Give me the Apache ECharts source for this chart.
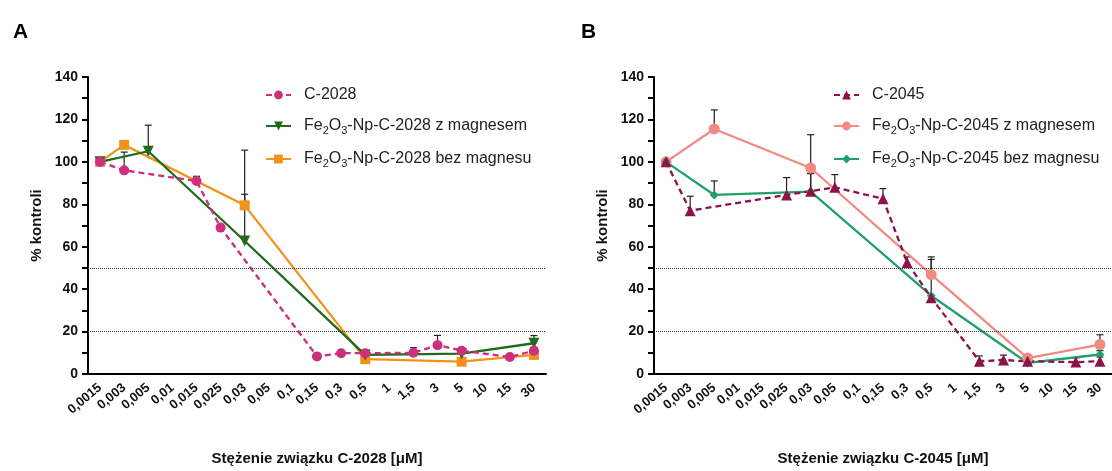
<!DOCTYPE html>
<html>
<head>
<meta charset="utf-8">
<script src="https://cdn.jsdelivr.net/npm/echarts@6/dist/echarts.min.js"></script>
<style>
  html, body { margin: 0; padding: 0; background: #fff; }
  #chart { width: 1112px; height: 471px; }
</style>
</head>
<body>
<div id="chart"></div>
<script>
// stężenia (oś X, wspólna dla obu paneli)
const concentrations = ['0,0015', '0,003', '0,005', '0,01', '0,015', '0,025', '0,03', '0,05', '0,1', '0,15',
  '0,3', '0,5', '1', '1,5', '3', '5', '10', '15', '30'];
const yTicks = [0, 20, 40, 60, 80, 100, 120, 140];
const refLines = [50, 20];

// panel A
const c2028 = [100, 96, null, null, 91, 69, null, null, null, 8.3, 9.8, 9.8, null, 10, 13.6, 11, null, 8, 11];
const c2028Err = [0, 8.6, null, null, 2.2, 0, null, null, null, 0, 0, 0, null, 2.4, 4.6, 0, null, 0, 1.5];
const fe2028z = [100, null, 105, null, null, null, 62.7, null, null, null, null, 9, null, null, null, 9.6, null, null, 14.5];
const fe2028zErr = [0, null, 12.3, null, null, null, 22, null, null, null, null, 2.2, null, null, null, 1.3, null, null, 3.6];
const fe2028b = [100, 108, null, null, null, null, 79.5, null, null, null, null, 7, null, null, null, 5.8, null, null, 9];
const fe2028bErr = [0, 2, null, null, null, null, 26, null, null, null, null, 0, null, null, null, 0, null, null, 0];

// panel B
const c2045 = [100, 77, null, null, null, 84.4, 86.2, 88, null, 82.6, 52.6, 36, null, 6, 6.6, 6, null, 5.6, 6];
const c2045Err = [0, 6.8, null, null, null, 8.2, 8.3, 6, null, 4.8, 2.6, 18, null, 2.5, 2.3, 0, null, 2, 2];
const fe2045z = [100, null, 115.5, null, null, null, 97.1, null, null, null, null, 46.8, null, null, null, 7.5, null, null, 13.9];
const fe2045zErr = [0, null, 9, null, null, null, 15.7, null, null, null, null, 8.4, null, null, null, 1.6, null, null, 4.6];
const fe2045b = [100, null, 84.4, null, null, null, 86, null, null, null, null, 36.9, null, null, null, 5.2, null, null, 9.2];
const fe2045bErr = [0, null, 6.6, null, null, null, 8.5, null, null, null, null, 0, null, null, null, 0, null, null, 1.8];

const FONT = "'Liberation Sans', Arial, sans-serif";
const chart = echarts.init(document.getElementById('chart'));

// Fe2O3 z indeksami dolnymi
function legendFmt(name) {
  if (name.indexOf('Fe2O3') !== 0) return '{n|' + name + '}';
  return '{n|Fe}{s|2}{n|O}{s|3}{n|' + name.slice(5) + '}';
}
const legendRich = {
  n: { fontSize: 16, fontFamily: FONT, color: '#222' },
  s: { fontSize: 11, fontFamily: FONT, color: '#222', padding: [9, 0, 0, 0] }
};

function xAxisFor(idx, name) {
  return {
    type: 'category', gridIndex: idx, data: concentrations, boundaryGap: true,
    name: name, nameLocation: 'middle', nameGap: 77,
    nameTextStyle: { fontFamily: FONT, fontWeight: 'bold', fontSize: 15, color: '#111' },
    axisLine: { lineStyle: { color: '#000', width: 2 } },
    axisTick: { alignWithLabel: true, length: 6, lineStyle: { width: 2, color: '#000' } },
    axisLabel: { interval: 0, rotate: 40, margin: 12, fontFamily: FONT, fontWeight: 'bold', fontSize: 13, color: '#111' }
  };
}
function yAxisFor(idx) {
  return {
    type: 'value', gridIndex: idx, min: yTicks[0], max: yTicks[yTicks.length - 1], interval: 20,
    name: '% kontroli', nameLocation: 'middle', nameGap: 44,
    nameTextStyle: { fontFamily: FONT, fontWeight: 'bold', fontSize: 15, color: '#111' },
    axisLine: { show: true, lineStyle: { color: '#000', width: 2 } },
    axisTick: { show: true, length: 6, lineStyle: { width: 2, color: '#000' } },
    minorTick: { show: true, splitNumber: 2, length: 6, lineStyle: { width: 2, color: '#000' } },
    splitLine: { show: false },
    axisLabel: { margin: 10, fontFamily: FONT, fontWeight: 'bold', fontSize: 14, color: '#111' }
  };
}

function lineSeries(name, data, grid, color, symbol, size, dashed, extra) {
  return Object.assign({
    name: name, type: 'line', xAxisIndex: grid, yAxisIndex: grid,
    data: data, connectNulls: true, symbol: symbol, symbolSize: size,
    lineStyle: { color: color, width: 2.3, type: dashed ? [6, 4] : 'solid' },
    itemStyle: { color: color }, z: 3
  }, extra || {});
}

function errSeries(data, errs, grid) {
  const pts = [];
  data.forEach((v, i) => { if (v != null && errs[i]) pts.push([i, v, errs[i]]); });
  return {
    type: 'custom', xAxisIndex: grid, yAxisIndex: grid, data: pts, z: 2, silent: true,
    renderItem: function (params, api) {
      const p0 = api.coord([api.value(0), api.value(1)]);
      const p1 = api.coord([api.value(0), api.value(1) + api.value(2)]);
      const st = { stroke: '#222', lineWidth: 1.2 };
      return {
        type: 'group', children: [
          { type: 'line', shape: { x1: p0[0], y1: p0[1], x2: p1[0], y2: p1[1] }, style: st },
          { type: 'line', shape: { x1: p1[0] - 3.5, y1: p1[1], x2: p1[0] + 3.5, y2: p1[1] }, style: st }
        ]
      };
    }
  };
}

const refMark = {
  silent: true, symbol: 'none', label: { show: false },
  lineStyle: { type: 'dotted', color: '#333', width: 1 },
  data: refLines.map(v => ({ yAxis: v }))
};

const namesA = ['C-2028', 'Fe2O3-Np-C-2028 z magnesem', 'Fe2O3-Np-C-2028 bez magnesu'];
const namesB = ['C-2045', 'Fe2O3-Np-C-2045 z magnesem', 'Fe2O3-Np-C-2045 bez magnesu'];

const option = {
  backgroundColor: '#fff',
  animation: false,
  title: [
    { text: 'A', left: 8, top: 17, textStyle: { fontFamily: FONT, fontWeight: 'bold', fontSize: 21, color: '#000' } },
    { text: 'B', left: 576, top: 17, textStyle: { fontFamily: FONT, fontWeight: 'bold', fontSize: 21, color: '#000' } }
  ],
  grid: [
    { left: 88, top: 77, width: 458, height: 305 },
    { left: 654, top: 77, width: 460, height: 305 }
  ],
  legend: [
    {
      data: namesA, orient: 'vertical', left: 260, top: 82, itemWidth: 25, itemHeight: 11, itemGap: 15,
      formatter: legendFmt, textStyle: { rich: legendRich, padding: [0, 0, 0, 8] }
    },
    {
      data: namesB, orient: 'vertical', left: 828, top: 82, itemWidth: 25, itemHeight: 11, itemGap: 15,
      formatter: legendFmt, textStyle: { rich: legendRich, padding: [0, 0, 0, 8] }
    }
  ],
  xAxis: [xAxisFor(0, 'Stężenie związku C-2028 [μM]'), xAxisFor(1, 'Stężenie związku C-2045 [μM]')],
  yAxis: [yAxisFor(0), yAxisFor(1)],
  series: [
    errSeries(c2028, c2028Err, 0),
    errSeries(fe2028z, fe2028zErr, 0),
    errSeries(fe2028b, fe2028bErr, 0),
    lineSeries(namesA[2], fe2028b, 0, '#f2921c', 'rect', 10, false),
    lineSeries(namesA[1], fe2028z, 0, '#1f6a1f', 'triangle', 11, false, { symbolRotate: 180 }),
    lineSeries(namesA[0], c2028, 0, '#cc2f7c', 'circle', 10, true, { markLine: refMark }),

    errSeries(c2045, c2045Err, 1),
    errSeries(fe2045z, fe2045zErr, 1),
    errSeries(fe2045b, fe2045bErr, 1),
    lineSeries(namesB[1], fe2045z, 1, '#f08a82', 'circle', 11, false),
    lineSeries(namesB[2], fe2045b, 1, '#22a06b', 'diamond', 9, false),
    lineSeries(namesB[0], c2045, 1, '#8c1448', 'triangle', 11, true, { markLine: refMark })
  ]
};
chart.setOption(option);
</script>
</body>
</html>
